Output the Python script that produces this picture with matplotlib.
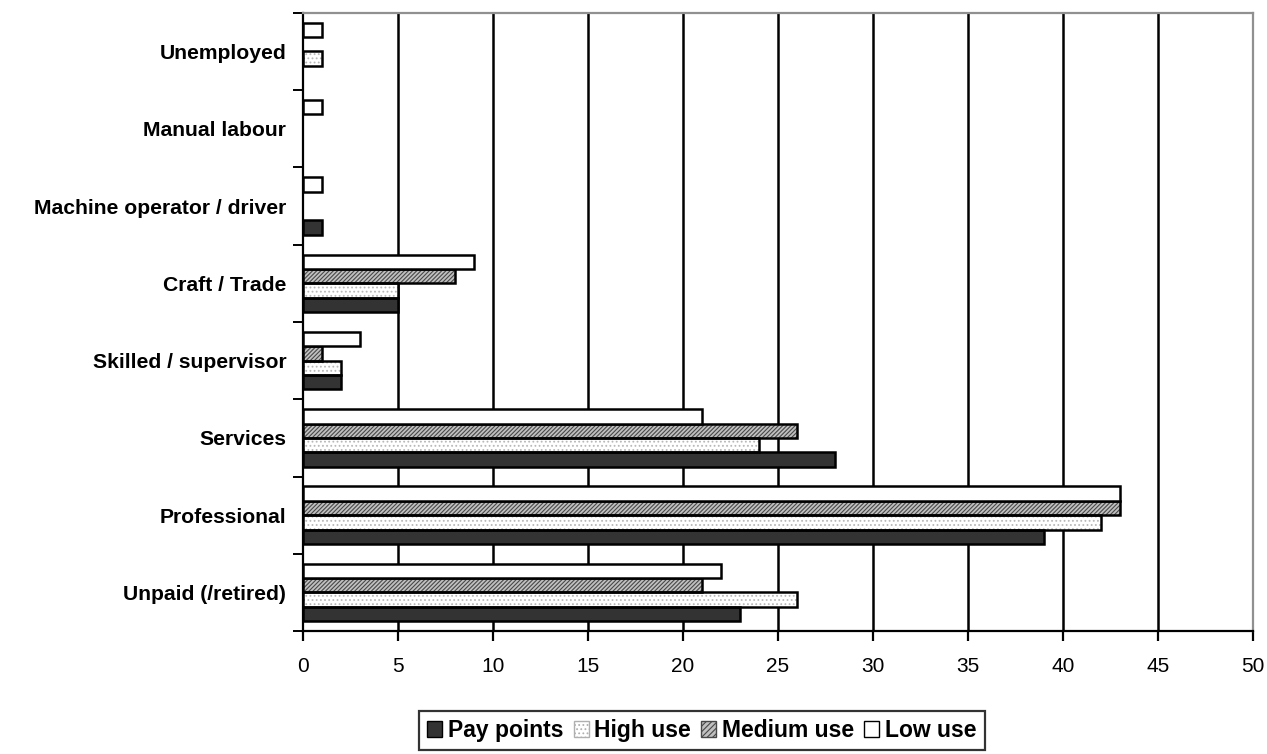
import numpy as np
import matplotlib
matplotlib.use("Agg")
import matplotlib.pyplot as plt
from matplotlib.patches import Patch

plt.rcParams['font.family'] = ['Liberation Sans', 'DejaVu Sans']
plt.rcParams['hatch.linewidth'] = 0.8

categories = ["Unpaid (/retired)", "Professional", "Services", "Skilled / supervisor",
              "Craft / Trade", "Machine operator / driver", "Manual labour", "Unemployed"]
series_names = ["Pay points", "High use", "Medium use", "Low use"]
pay_points = [23, 39, 28, 2, 5, 1, 0, 0]
high_use = [26, 42, 24, 2, 5, 0, 0, 1]
medium_use = [21, 43, 26, 1, 8, 0, 0, 0]
low_use = [22, 43, 21, 3, 9, 1, 1, 1]
x_ticks = list(range(0, 51, 5))

fig = plt.figure(figsize=(12.67, 7.54), dpi=100)
ax = fig.add_axes([0.239, 0.163, 0.750, 0.820])

y = np.arange(len(categories))
h = 0.186
offsets = [-1.5 * h, -0.5 * h, 0.5 * h, 1.5 * h]

# (face colour, hatch, hatch colour) per series
styles = [
    ("#333333", None, None),
    ("white", "....", "#b8b8b8"),
    ("#c0c0c0", "////////", "#484848"),
    ("white", None, None),
]
values = [pay_points, high_use, medium_use, low_use]

for vals, off, (fc, hatch, hc) in zip(values, offsets, styles):
    vals = np.asarray(vals, dtype=float)
    keep = vals > 0
    ypos = (y + off)[keep]
    vals = vals[keep]
    if hatch:
        ax.barh(ypos, vals, height=h, color=fc, hatch=hatch, edgecolor=hc,
                linewidth=0, zorder=2)
        ax.barh(ypos, vals, height=h, fill=False, edgecolor="black",
                linewidth=1.8, zorder=3)
    else:
        ax.barh(ypos, vals, height=h, color=fc, edgecolor="black",
                linewidth=1.8, zorder=3)

ax.set_xlim(0, 50)
ax.set_ylim(-0.5, len(categories) - 0.5)
ax.set_xticks(x_ticks)
ax.set_xticklabels([str(t) for t in x_ticks], fontsize=15)
ax.tick_params(axis='x', direction='out', length=7, width=1.6, pad=12)

# category boundaries carry the tick marks, centres carry the labels
ax.set_yticks(np.arange(-0.5, len(categories), 1.0))
ax.set_yticklabels([])
ax.tick_params(axis='y', which='major', direction='out', length=7, width=1.4)
ax.set_yticks(y, minor=True)
ax.set_yticklabels(categories, minor=True, fontsize=15.2, fontweight='bold')
ax.tick_params(axis='y', which='minor', length=0, pad=12)

for xv in x_ticks[1:-1]:
    ax.axvline(xv, color="black", linewidth=1.8, zorder=1)

for side in ("left", "bottom"):
    ax.spines[side].set_color("black")
    ax.spines[side].set_linewidth(1.6)
for side in ("top", "right"):
    ax.spines[side].set_color("#909090")
    ax.spines[side].set_linewidth(1.6)

handles = [
    Patch(facecolor="#333333", edgecolor="black", linewidth=1.0),
    Patch(facecolor="white", edgecolor="#b0b0b0", hatch="....", linewidth=1.0),
    Patch(facecolor="#c0c0c0", edgecolor="#484848", hatch="//////", linewidth=1.0),
    Patch(facecolor="white", edgecolor="black", linewidth=1.0),
]
leg = fig.legend(handles, series_names, loc="upper center", ncol=4,
                 bbox_to_anchor=(0.554, 0.057), frameon=True, fancybox=False,
                 edgecolor="black", prop={'size': 16.5, 'weight': 'bold'},
                 handlelength=0.65, handleheight=0.65, handletextpad=0.25,
                 columnspacing=0.45, borderpad=0.35, borderaxespad=0)
leg.get_frame().set_linewidth(1.6)

fig.savefig("out.png", dpi=100)
